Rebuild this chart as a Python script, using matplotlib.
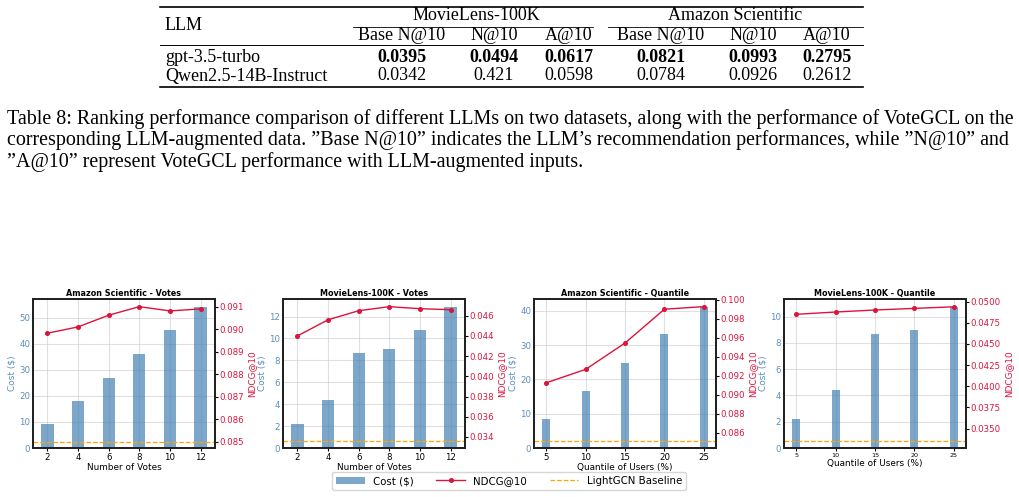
import matplotlib
matplotlib.use("Agg")
import matplotlib.pyplot as plt
from matplotlib.lines import Line2D
from matplotlib.patches import Patch
from matplotlib.ticker import MultipleLocator
import numpy as np

W, H = 1020, 497
DPI = 100

# ---------------- data ----------------
table_llms = ["gpt-3.5-turbo", "Qwen2.5-14B-Instruct"]
table_groups = ["MovieLens-100K", "Amazon Scientific"]
table_cols = ["Base N@10", "N@10", "A@10", "Base N@10", "N@10", "A@10"]
gpt_vals = ["0.0395", "0.0494", "0.0617", "0.0821", "0.0993", "0.2795"]
qwen_vals = ["0.0342", "0.421", "0.0598", "0.0784", "0.0926", "0.2612"]

caption_lines = [
    "Table 8: Ranking performance comparison of different LLMs on two datasets, along with the performance of VoteGCL on the",
    "corresponding LLM-augmented data. \u201dBase N@10\u201d indicates the LLM\u2019s recommendation performances, while \u201dN@10\u201d and",
    "\u201dA@10\u201d represent VoteGCL performance with LLM-augmented inputs.",
]

titles = ["Amazon Scientific - Votes", "MovieLens-100K - Votes",
          "Amazon Scientific - Quantile", "MovieLens-100K - Quantile"]
xlabels = ["Number of Votes", "Number of Votes",
           "Quantile of Users (%)", "Quantile of Users (%)"]

votes = [2, 4, 6, 8, 10, 12]
quantiles = [5, 10, 15, 20, 25]

amz_votes_cost = [9.1, 18.0, 26.8, 36.0, 45.3, 54.1]
amz_votes_ndcg = [0.08982, 0.09010, 0.09062, 0.09100, 0.09081, 0.09090]
ml_votes_cost = [2.2, 4.4, 8.7, 9.0, 10.8, 12.9]
ml_votes_ndcg = [0.0440, 0.0456, 0.0465, 0.0469, 0.0467, 0.0466]
amz_q_cost = [8.5, 16.6, 24.8, 33.3, 41.2]
amz_q_ndcg = [0.09125, 0.09267, 0.09545, 0.09902, 0.09930]
ml_q_cost = [2.2, 4.4, 8.68, 8.98, 10.72]
ml_q_ndcg = [0.04851, 0.04878, 0.04902, 0.04921, 0.04940]

baselines = [0.0850, 0.03357, 0.0851, 0.0335]

# ---------------- figure ----------------
fig = plt.figure(figsize=(W / DPI, H / DPI), dpi=DPI)


def px(x, y):
    return x / W, 1 - y / H


def ftext(x, y, s, **kw):
    fx, fy = px(x, y)
    kw.setdefault("family", "Liberation Serif")
    kw.setdefault("fontsize", 13)
    kw.setdefault("va", "center")
    fig.text(fx, fy, s, **kw)


def hline(x0, x1, y, lw):
    a, b = px(x0, y)
    c, _ = px(x1, y)
    fig.add_artist(Line2D([a, c], [b, b], color="black", lw=lw,
                          transform=fig.transFigure))


# table
hline(160, 863, 7, 1.2)
ftext(165, 25, "LLM", ha="left")
ftext(476, 16, table_groups[0], ha="center")
ftext(735, 16, table_groups[1], ha="center")
hline(353, 593, 27, 0.6)
hline(608, 863, 27, 0.6)
col_x = [402, 494, 569, 661, 753, 827]
for cx, c in zip(col_x, table_cols):
    ftext(cx, 36, c, ha="center")
hline(160, 863, 45, 0.7)
ftext(165, 57, table_llms[0], ha="left")
for cx, v in zip(col_x, gpt_vals):
    ftext(cx, 57, v, ha="center", weight="bold")
ftext(165, 76, table_llms[1], ha="left")
for cx, v in zip(col_x, qwen_vals):
    ftext(cx, 76, v, ha="center")
hline(160, 863, 87, 1.2)

# caption
for i, line in enumerate(caption_lines):
    ftext(7, 119 + i * 21.5, line, ha="left", fontsize=14.4)

# ---------------- subplots ----------------
bar_color = "steelblue"
left_tick_color = "#5a8fc0"
red = "#dc143c"

lefts = [33, 283, 534, 784]
ax_w = 182
top_y, bot_y = 299, 448

costs = [amz_votes_cost, ml_votes_cost, amz_q_cost, ml_q_cost]
ndcgs = [amz_votes_ndcg, ml_votes_ndcg, amz_q_ndcg, ml_q_ndcg]
xs = [votes, votes, quantiles, quantiles]
widths = [0.8, 0.8, 1.0, 1.0]
left_ylims = [(0, 57.3), (0, 13.6), (0, 43.4), (0, 11.35)]
left_steps = [10, 2, 10, 2]
right_ylims = [(0.08472, 0.09134), (0.0329, 0.04766),
               (0.08437, 0.1001), (0.0327, 0.05032)]
right_ticks = [np.arange(0.085, 0.0915, 0.001), np.arange(0.034, 0.0465, 0.002),
               np.arange(0.086, 0.1005, 0.002), np.arange(0.035, 0.0505, 0.0025)]
right_fmt = ["{:.3f}", "{:.3f}", "{:.3f}", "{:.4f}"]

for i in range(4):
    l = lefts[i] / W
    b = (H - bot_y) / H
    w = ax_w / W
    h = (bot_y - top_y) / H
    ax = fig.add_axes([l, b, w, h])
    ax.bar(xs[i], costs[i], width=widths[i], color=bar_color, alpha=0.7,
           label="Cost ($)", zorder=2)
    ax.set_ylim(*left_ylims[i])
    ax.yaxis.set_major_locator(MultipleLocator(left_steps[i]))
    ax.set_xticks(xs[i])
    ax.grid(True, color="#cccccc", alpha=0.6, lw=0.8, zorder=0)
    ax.set_axisbelow(True)
    ax.set_title(titles[i], fontsize=5.8, weight="bold", pad=2)
    ax.set_xlabel(xlabels[i], fontsize=6.4, labelpad=1)
    ax.set_ylabel("Cost ($)", fontsize=6.4, color=left_tick_color, labelpad=2)
    ax.tick_params(axis="y", labelsize=6.2, labelcolor=left_tick_color,
                   length=0, pad=2)
    ax.tick_params(axis="x", labelsize=(4.6 if i == 3 else 6.2), length=2,
                   width=0.8, pad=1.5)

    ax2 = ax.twinx()
    ax2.plot(xs[i], ndcgs[i], color=red, lw=1, marker="o", ms=2.6,
             label="NDCG@10", zorder=3)
    ax2.axhline(baselines[i], color="orange", ls="--", lw=0.9,
                label="LightGCN Baseline")
    ax2.set_ylim(*right_ylims[i])
    ax2.set_yticks(right_ticks[i])
    ax2.set_yticklabels([right_fmt[i].format(t) for t in right_ticks[i]])
    ax2.set_ylabel("NDCG@10", fontsize=6.4, color=red, labelpad=2)
    ax2.tick_params(axis="y", labelsize=6.2, labelcolor=red, length=2.5,
                    width=0.8, pad=1)
    for a in (ax, ax2):
        for s in a.spines.values():
            s.set_linewidth(1.4)
            s.set_color("#222222")

handles = [Patch(facecolor=bar_color, alpha=0.7, label="Cost ($)"),
           Line2D([], [], color=red, lw=1, marker="o", ms=2.6, label="NDCG@10"),
           Line2D([], [], color="orange", ls="--", lw=0.9, label="LightGCN Baseline")]
fig.legend(handles=handles, loc="center", bbox_to_anchor=(509 / W, 1 - 481 / H),
           ncol=3, fontsize=7.4, frameon=True, handlelength=2.8,
           columnspacing=2.2, borderpad=0.4, fancybox=True)

fig.savefig("out.png", dpi=DPI)
